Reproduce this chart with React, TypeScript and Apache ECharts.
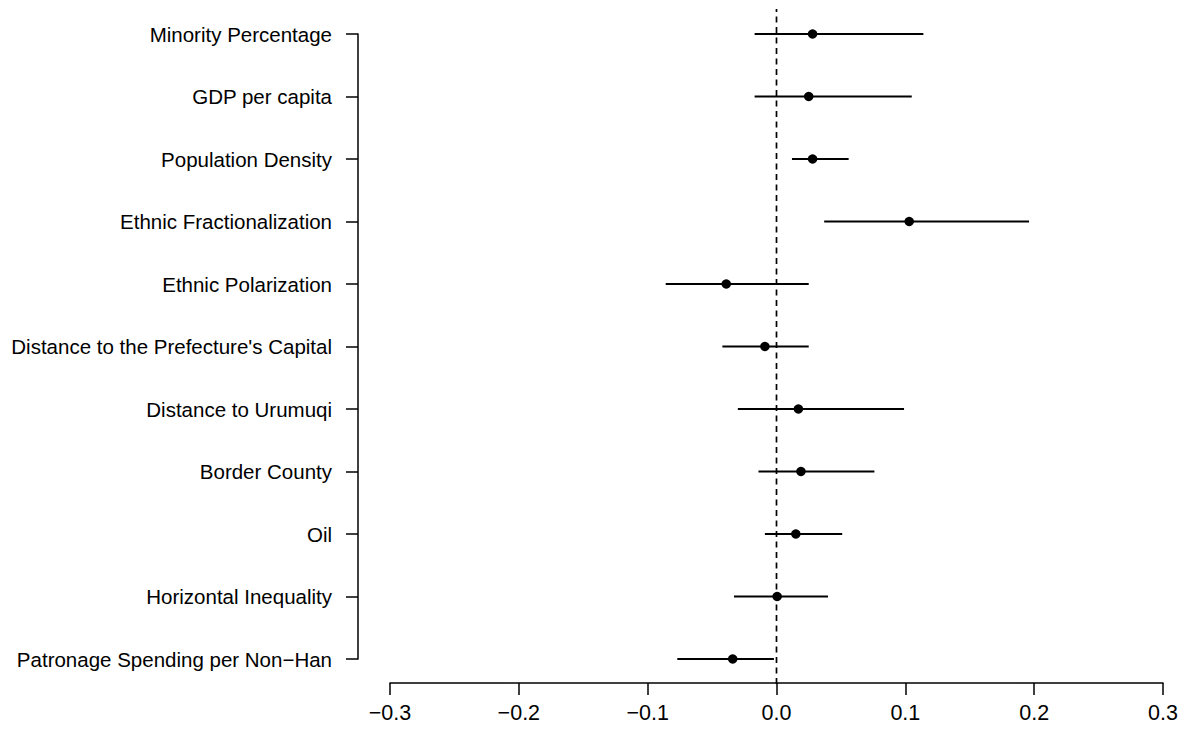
import React, { useEffect, useRef } from "react";
import * as echarts from "echarts";

// Variables, listed top to bottom
const categories: string[] = [
  "Minority Percentage",
  "GDP per capita",
  "Population Density",
  "Ethnic Fractionalization",
  "Ethnic Polarization",
  "Distance to the Prefecture's Capital",
  "Distance to Urumuqi",
  "Border County",
  "Oil",
  "Horizontal Inequality",
  "Patronage Spending per Non\u2212Han",
];
const estimates: number[] = [0.028, 0.025, 0.028, 0.103, -0.039, -0.009, 0.017, 0.019, 0.015, 0.0005, -0.034];
const lower: number[] = [-0.017, -0.017, 0.012, 0.037, -0.086, -0.042, -0.030, -0.014, -0.009, -0.033, -0.077];
const upper: number[] = [0.114, 0.105, 0.056, 0.196, 0.025, 0.025, 0.099, 0.076, 0.051, 0.040, -0.002];
const xTicks: number[] = [-0.3, -0.2, -0.1, 0, 0.1, 0.2, 0.3];
const refValue = 0;

const FONT = "'Liberation Sans', Arial, Helvetica, sans-serif";

export default function App() {
  const ref = useRef<HTMLDivElement>(null);
  useEffect(() => {
    if (!ref.current) return;
    const chart = echarts.init(ref.current, null, { renderer: "svg" });
    const n = categories.length;
    const yOf = (i: number) => n - 1 - i;
    const pointData = estimates.map((v, i) => [v, yOf(i)]);
    const barData = lower.map((lo, i) => [lo, upper[i], yOf(i)]);
    const fmt = (v: number) => {
      const s = Math.abs(v) < 1e-9 ? "0.0" : v.toFixed(1);
      return s.replace("-", "\u2212");
    };
    chart.setOption({
      animation: false,
      backgroundColor: "#ffffff",
      grid: { left: 390, right: 19, top: 34, bottom: 76, containLabel: false },
      xAxis: {
        type: "value",
        min: xTicks[0],
        max: xTicks[xTicks.length - 1],
        interval: 0.1,
        offset: 24,
        axisLine: { show: true, onZero: false, lineStyle: { color: "#000", width: 1.5 } },
        axisTick: { show: true, length: 12, lineStyle: { color: "#000", width: 1.5 } },
        axisLabel: { color: "#000", fontSize: 21.5, fontFamily: FONT, margin: 19, formatter: fmt },
        splitLine: { show: false },
      },
      yAxis: {
        type: "value",
        min: 0,
        max: n - 1,
        interval: 1,
        offset: 32,
        axisLine: { show: true, onZero: false, lineStyle: { color: "#000", width: 1.5 } },
        axisTick: { show: true, length: 12, lineStyle: { color: "#000", width: 1.5 } },
        axisLabel: {
          color: "#000",
          fontSize: 20.5,
          fontFamily: FONT,
          margin: 26,
          formatter: (v: number) => categories[n - 1 - Math.round(v)] ?? "",
        },
        splitLine: { show: false },
      },
      series: [
        {
          type: "custom",
          clip: false,
          silent: true,
          data: [[refValue]],
          renderItem: (params: any, api: any) => {
            const p1 = api.coord([api.value(0), -0.4]);
            const p2 = api.coord([api.value(0), n - 1 + 0.4]);
            return {
              type: "line",
              shape: { x1: p1[0], y1: p1[1], x2: p2[0], y2: p2[1] },
              style: { stroke: "#000", lineWidth: 1.7, lineDash: [6, 4.5] },
            };
          },
        },
        {
          type: "custom",
          clip: false,
          silent: true,
          data: barData,
          renderItem: (params: any, api: any) => {
            const p1 = api.coord([api.value(0), api.value(2)]);
            const p2 = api.coord([api.value(1), api.value(2)]);
            return {
              type: "line",
              shape: { x1: p1[0], y1: p1[1], x2: p2[0], y2: p2[1] },
              style: { stroke: "#000", lineWidth: 2 },
            };
          },
        },
        {
          type: "scatter",
          data: pointData,
          symbol: "circle",
          symbolSize: 9.5,
          itemStyle: { color: "#000", opacity: 1 },
          silent: true,
          z: 5,
        },
      ],
    });
    return () => chart.dispose();
  }, []);
  return (
    <div
      ref={ref}
      style={{ position: "fixed", left: 0, top: 0, width: 1182, height: 735, background: "#fff" }}
    />
  );
}
